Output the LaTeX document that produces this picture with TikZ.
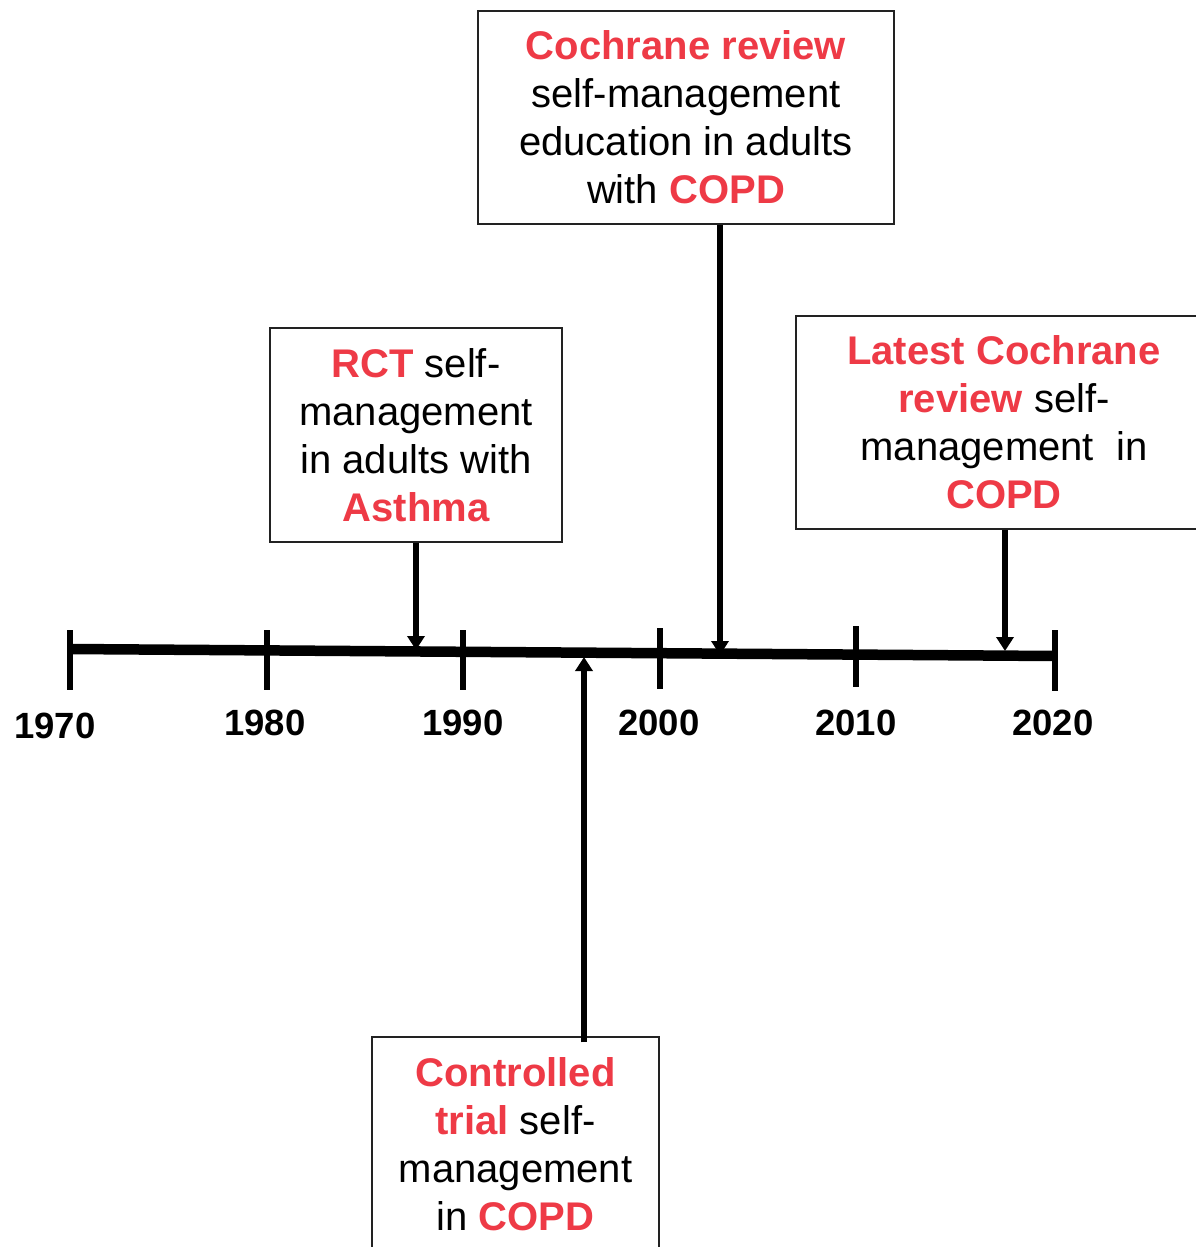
\documentclass[tikz,border=0pt]{standalone}
\usepackage{fontspec}
\setmainfont{Liberation Sans}
\usetikzlibrary{arrows.meta,calc}
\definecolor{hired}{HTML}{EE3A46}
\definecolor{boxline}{HTML}{222222}
\newcommand{\hl}[1]{{\bfseries\color{hired}#1}}
\tikzset{
  evbox/.style={draw=boxline, line width=1.3bp, inner sep=0pt, align=center,
    font=\fontsize{40bp}{48bp}\selectfont},
  yearlbl/.style={font=\fontsize{36.5bp}{40bp}\selectfont\bfseries, inner sep=0pt},
  axisline/.style={line width=10.5bp},
  tickline/.style={line width=6bp},
  evarrow/.style={line width=5.5bp, -{Triangle[width=17bp,length=14bp]}}
}
\begin{document}
\begin{tikzpicture}[x=1bp,y=-1bp]
\useasboundingbox (0,0) rectangle (1196,1247);
\clip (0,0) rectangle (1196,1247);
\fill[white] (0,0) rectangle (1196,1247);

% timeline
\coordinate (ax0) at (70,649);
\coordinate (ax1) at (1055,656);
\draw[axisline] (ax0) -- (ax1);
\draw[tickline] (70,630) -- (70,690);
\draw[tickline] (267,630) -- (267,690);
\draw[tickline] (463,630) -- (463,690);
\draw[tickline] (660,628) -- (660,689);
\draw[tickline] (856,626) -- (856,687);
\draw[tickline] (1055,630) -- (1055,691);

\node[yearlbl] (y1970) at (55,726) {1970};
\node[yearlbl] (y1980) at (265,723) {1980};
\node[yearlbl] (y1990) at (463,723) {1990};
\node[yearlbl] (y2000) at (659,723) {2000};
\node[yearlbl] (y2010) at (856,723) {2010};
\node[yearlbl] (y2020) at (1053,723) {2020};

% boxes
\node[evbox, minimum width=416bp, minimum height=213bp] (cochrane) at (686,117.5)
  {\hl{Cochrane review}\\ self-management\\ education in adults\\ with \hl{COPD}};
\node[evbox, minimum width=292bp, minimum height=214bp] (rct) at (416,435)
  {\hl{RCT} self-\\ management\\ in adults with\\ \hl{Asthma}};
\node[evbox, minimum width=416bp, minimum height=213bp] (latest) at (1004,422.5)
  {\hl{Latest Cochrane}\\ \hl{review} self-\\ management\ \ in\\ \hl{COPD}};
\node[evbox, minimum width=287bp, minimum height=215bp] (ctrl) at (515.5,1144.5)
  {\hl{Controlled}\\ \hl{trial} self-\\ management\\ in \hl{COPD}};

% arrow targets on the timeline
\coordinate (tRCT) at (416,650);
\coordinate (tCoch) at (720,655);
\coordinate (tLat) at (1005,651);
\coordinate (tCtrl) at (584,657);

\draw[evarrow] (tRCT |- rct.south) -- (tRCT);
\draw[evarrow] (tCoch |- cochrane.south) -- (tCoch);
\draw[evarrow] (tLat |- latest.south) -- (tLat);
\draw[evarrow] ($(tCtrl |- ctrl.north)+(0,6)$) -- (tCtrl);
\end{tikzpicture}
\end{document}
